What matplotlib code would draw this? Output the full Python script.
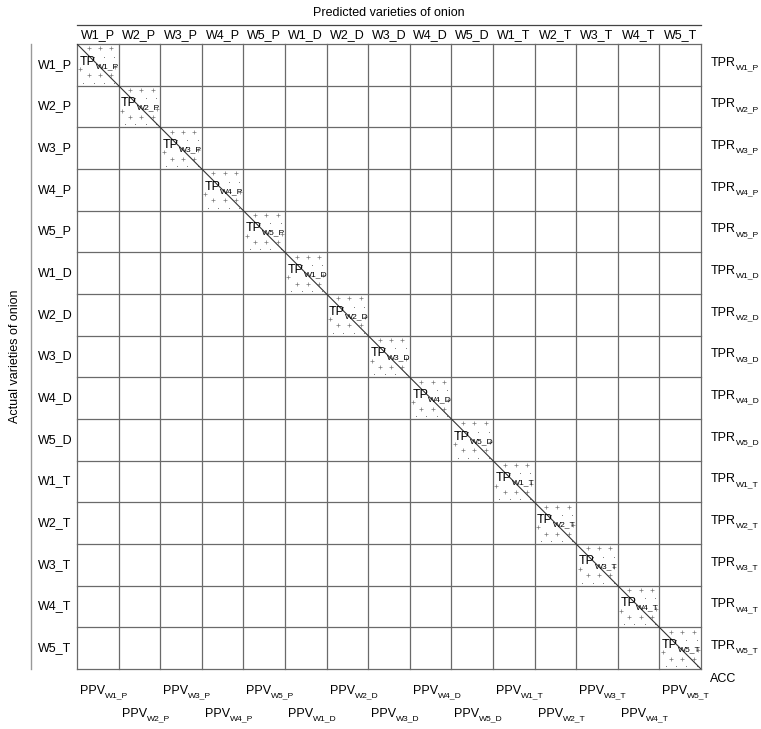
import matplotlib
matplotlib.use('Agg')
import matplotlib.pyplot as plt
from matplotlib import font_manager
import numpy as np

# narrow sans if available, else regular sans
try:
    font_manager.findfont('Liberation Sans Narrow', fallback_to_default=False)
    FONT = 'Liberation Sans Narrow'
    FS = 10.5
except Exception:
    FONT = 'Liberation Sans'
    FS = 9
plt.rcParams['font.family'] = [FONT, 'DejaVu Sans']

# labels of the confusion matrix
varieties = ['W1', 'W2', 'W3', 'W4', 'W5']
states = ['P', 'D', 'T']
classes = [f'{v}_{s}' for s in states for v in varieties]
n = len(classes)

W, H = 761, 729
fig = plt.figure(figsize=(W / 100, H / 100), dpi=100)
ax = fig.add_axes([77 / W, 1 - 669 / H, 624 / W, 625 / H])
ax.set_xlim(0, n)
ax.set_ylim(n, 0)
ax.axis('off')
renderer = fig.canvas.get_renderer()


def sub_label(x, y, main, sub, fs=FS):
    # main text plus a smaller lowered subscript right after it
    t = ax.text(x, y, main, fontsize=fs, ha='left', va='center', zorder=3, clip_on=False)
    bb = t.get_window_extent(renderer)
    fig.text(bb.x1 / W, (bb.y0 + bb.y1) / 2 / H - 5 / H, sub, fontsize=fs * 0.68,
             ha='left', va='center', zorder=3)


grid_col = '#6a6a6a'
for k in range(n + 1):
    ax.plot([k, k], [0, n], color=grid_col, lw=0.9, clip_on=False, zorder=2)
    ax.plot([0, n], [k, k], color=grid_col, lw=0.9, clip_on=False, zorder=2)

# diagonal cells: sparse '+' fill with small dots between
pc = '#7a7a7a'
for i in range(n):
    for yo in [0.1, 0.75]:
        xs = i + 0.28 + np.arange(3) * 0.27
        ax.scatter(xs, np.full(3, i + yo), marker='+', s=9, lw=0.5, color=pc, zorder=1)
    for yo in [0.3, 0.93]:
        xs = i + 0.15 + np.arange(4) * 0.25
        ax.scatter(xs, np.full(4, i + yo), marker='.', s=2, lw=0, color=pc, zorder=1)
    ax.scatter([i + 0.08, i + 0.92], [i + 0.6, i + 0.55], marker='+', s=9, lw=0.5,
               color=pc, zorder=1)
    sub_label(i + 0.06, i + 0.42, 'TP', classes[i])

ax.plot([0, n], [0, n], color='#333333', lw=0.8, zorder=2)

for i, lab in enumerate(classes):
    ax.text(i + 0.5, -0.22, lab, fontsize=FS, ha='center', va='center')
    ax.text(-0.53, i + 0.5, lab, fontsize=FS, ha='center', va='center')
    sub_label(n + 0.24, i + 0.45, 'TPR', lab)
    yy = n + 0.52 if i % 2 == 0 else n + 1.08
    sub_label(i + 0.07, yy, 'PPV', lab)

ax.text(n + 0.22, n + 0.25, 'ACC', fontsize=FS, ha='left', va='center')

ax.plot([0, n], [-0.45, -0.45], color='#444444', lw=0.9, clip_on=False)
ax.text(n / 2, -0.75, 'Predicted varieties of onion', fontsize=FS, ha='center', va='center')
ax.plot([-1.1, -1.1], [0, n], color='#999999', lw=1.0, clip_on=False)
ax.text(-1.48, n / 2, 'Actual varieties of onion', fontsize=FS, ha='center', va='center',
        rotation=90)

fig.savefig('out.png', dpi=100)
